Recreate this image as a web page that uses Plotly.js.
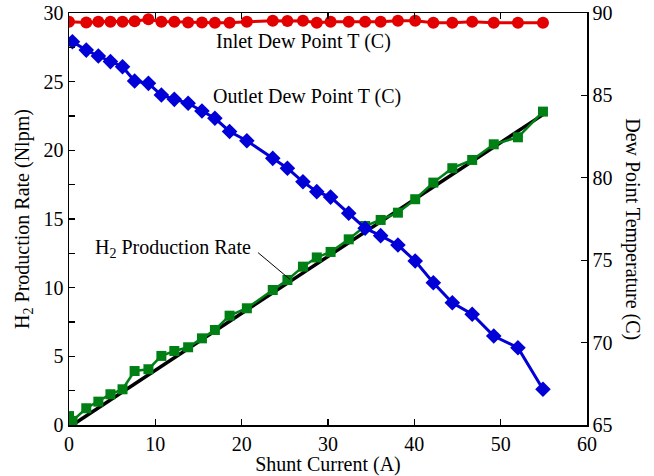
<!DOCTYPE html>
<html>
<head>
<meta charset="utf-8">
<script src="https://cdn.plot.ly/plotly-3.0.1.min.js"></script>
<style>html,body{margin:0;padding:0;background:#fff;}#chart{width:654px;height:476px;}</style>
</head>
<body>
<div id="chart"></div>
<script>
// Shunt current (A)
const current = [0, 0.4, 2.0, 3.4, 4.8, 6.2, 7.6, 9.2, 10.7, 12.2, 13.8, 15.4, 16.9, 18.6, 20.6, 23.6, 25.3, 27.1, 28.7, 30.3, 32.4, 34.3, 36.1, 38.1, 40.1, 42.2, 44.4, 46.7, 49.2, 52.0, 54.9];
// H2 production rate (Nlpm)
const h2Rate = [0.65, 0.3, 1.22, 1.7, 2.24, 2.6, 3.93, 4.06, 5.03, 5.39, 5.66, 6.31, 6.92, 7.96, 8.5, 9.83, 10.56, 11.53, 12.2, 12.6, 13.52, 14.49, 14.93, 15.46, 16.44, 17.65, 18.7, 19.3, 20.44, 20.95, 22.82];
// Outlet dew point (C)
const outletDew = [null, 88.26, 87.75, 87.39, 87.05, 86.74, 85.87, 85.73, 85.02, 84.76, 84.52, 84.05, 83.61, 82.81, 82.25, 81.18, 80.58, 79.76, 79.16, 78.83, 77.85, 76.94, 76.49, 75.92, 74.95, 73.63, 72.42, 71.72, 70.4, 69.69, 67.17];
// Inlet dew point (C)
const inletDew = [89.47, null, 89.43, 89.47, 89.47, 89.47, 89.5, 89.62, 89.47, 89.47, 89.43, 89.43, 89.41, 89.41, 89.47, 89.53, 89.51, 89.53, 89.41, 89.47, 89.47, 89.47, 89.47, 89.53, 89.53, 89.41, 89.41, 89.47, 89.41, 89.41, 89.41];
// Linear fit of H2 production rate
const fitX = [0.4, 54.9];
const fitY = [0.0, 22.6];

const FONT = 'Liberation Serif, Times New Roman, serif';
const RED = 'rgb(226,0,0)';
const BLUE = 'rgb(0,0,215)';
const GREEN = 'rgb(0,128,20)';

const traces = [
  {x: fitX, y: fitY, mode: 'lines', line: {color: '#000', width: 3.5}, xaxis: 'x', yaxis: 'y', hoverinfo: 'skip'},
  {x: current, y: h2Rate, mode: 'lines+markers', line: {color: GREEN, width: 2.5},
   marker: {symbol: 'square', size: 10, color: GREEN}, xaxis: 'x', yaxis: 'y'},
  {x: current, y: inletDew, mode: 'lines+markers', connectgaps: true, line: {color: RED, width: 3},
   marker: {symbol: 'circle', size: 12, color: RED}, xaxis: 'x', yaxis: 'y2'},
  {x: current, y: outletDew, mode: 'lines+markers', line: {color: BLUE, width: 3},
   marker: {symbol: 'diamond', size: 12, color: BLUE}, xaxis: 'x', yaxis: 'y2'}
];

const axisCommon = {
  showline: true, linecolor: '#000', linewidth: 1.5, ticks: 'inside', ticklen: 6,
  tickcolor: '#000', tickwidth: 1.2, showgrid: false, zeroline: false,
  tickfont: {family: FONT, size: 20, color: '#000'}
};

const layout = {
  width: 654, height: 476,
  margin: {l: 69, r: 67, t: 13, b: 51, pad: 0},
  paper_bgcolor: '#fff', plot_bgcolor: '#fff',
  showlegend: false,
  font: {family: FONT, size: 20, color: '#000'},
  xaxis: Object.assign({}, axisCommon, {
    range: [0, 60], dtick: 10, tick0: 0, mirror: 'ticks',
    title: {text: 'Shunt Current (A)', font: {family: FONT, size: 20, color: '#000'}, standoff: 2}
  }),
  yaxis: Object.assign({}, axisCommon, {
    range: [0, 30], dtick: 5, tick0: 0,
    minor: {dtick: 2.5, ticks: 'inside', ticklen: 6, tickcolor: '#000', tickwidth: 1.2},
    title: {text: 'H<sub>2</sub> Production Rate (Nlpm)', font: {family: FONT, size: 20, color: '#000'}, standoff: 8}
  }),
  yaxis2: Object.assign({}, axisCommon, {
    range: [65, 90], dtick: 5, tick0: 65, overlaying: 'y', side: 'right'
  }),
  annotations: [
    {text: 'Inlet Dew Point T (C)', xref: 'x', yref: 'y', x: 16.8, y: 27.9, xanchor: 'left', yanchor: 'middle',
     showarrow: false, font: {family: FONT, size: 20, color: '#000'}},
    {text: 'Outlet Dew Point T (C)', xref: 'x', yref: 'y', x: 16.5, y: 23.9, xanchor: 'left', yanchor: 'middle',
     showarrow: false, font: {family: FONT, size: 20, color: '#000'}},
    {text: 'H<sub>2</sub> Production Rate', xref: 'x', yref: 'y', x: 2.8, y: 12.85, xanchor: 'left', yanchor: 'middle',
     showarrow: false, font: {family: FONT, size: 20, color: '#000'}},
    {text: 'Dew Point Temperature (C)', xref: 'paper', yref: 'paper', x: 1.089, y: 0.475, xanchor: 'center', yanchor: 'middle',
     textangle: 90, showarrow: false, font: {family: FONT, size: 20, color: '#000'}}
  ],
  shapes: [
    {type: 'line', xref: 'x', yref: 'y', x0: 21.9, y0: 12.55, x1: 25.6, y1: 10.6, line: {color: '#000', width: 1}}
  ]
};

Plotly.newPlot('chart', traces, layout, {displayModeBar: false, staticPlot: true});
</script>
</body>
</html>
